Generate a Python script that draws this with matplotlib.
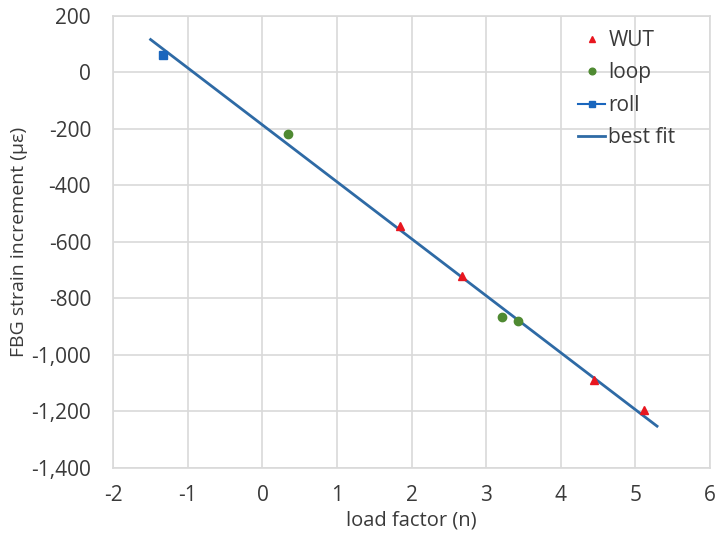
import matplotlib
matplotlib.use("Agg")
import matplotlib.pyplot as plt
from matplotlib.ticker import FuncFormatter

# Data
wut_x = [1.85, 2.68, 4.44, 5.12]
wut_y = [-543, -720, -1088, -1194]
loop_x = [0.34, 3.21, 3.43]
loop_y = [-218, -865, -881]
roll_x = [-1.34]
roll_y = [60]
fit_x = [-1.5, 5.29]
fit_y = [116, -1252]

x_ticks = [-2, -1, 0, 1, 2, 3, 4, 5, 6]
y_ticks = [200, 0, -200, -400, -600, -800, -1000, -1200, -1400]

plt.rcParams['font.family'] = ['Open Sans', 'DejaVu Sans']
plt.rcParams['axes.unicode_minus'] = False

W, H = 716, 545
fig = plt.figure(figsize=(W / 100, H / 100), dpi=100)
left, right, top, bottom = 113.3, 710, 15.8, 468
ax = fig.add_axes([left / W, 1 - bottom / H, (right - left) / W, (bottom - top) / H])

grid_c = '#d9d9d9'
txt_c = '#3a3a3a'
ax.plot(fit_x, fit_y, '-', color='#2e6aa5', lw=2.0, label='best fit', zorder=2)
ax.plot(wut_x, wut_y, linestyle='none', marker='^', color='#e8161f', ms=6, label='WUT', zorder=3)
ax.plot(loop_x, loop_y, linestyle='none', marker='o', color='#4f8a32', ms=6, label='loop', zorder=3)
ax.plot(roll_x, roll_y, '-', marker='s', color='#1a66bd', ms=6, lw=1.5, label='roll', zorder=3)

ax.set_xlim(-2, 6)
ax.set_ylim(-1400, 200)
ax.set_xticks(x_ticks)
ax.set_yticks(y_ticks)
ax.yaxis.set_major_formatter(FuncFormatter(lambda v, p: f"{int(v):,}"))
ax.grid(True, color=grid_c, lw=1.2)
ax.set_axisbelow(True)
for s in ax.spines.values():
    s.set_color(grid_c)
    s.set_linewidth(1.2)
ax.tick_params(length=0, labelsize=15, colors=txt_c)
ax.tick_params(axis='x', pad=12)
ax.tick_params(axis='y', pad=16)

ax.set_xlabel('load factor (n)', fontsize=14.5, color=txt_c, labelpad=3.5)
ax.set_ylabel('FBG strain increment (με)', fontsize=14, color=txt_c, labelpad=2)

handles, labels = ax.get_legend_handles_labels()
order = [1, 2, 3, 0]
leg = ax.legend([handles[i] for i in order], [labels[i] for i in order],
                loc='upper left', bbox_to_anchor=((578 - left) / (right - left), (bottom - 30) / (bottom - top)),
                borderaxespad=0, borderpad=0, frameon=False,
                fontsize=15, handlelength=1.3, labelspacing=0.55, handletextpad=0.15,
                markerscale=0.8)
for t in leg.get_texts():
    t.set_color(txt_c)

fig.savefig('out.png', dpi=100)
